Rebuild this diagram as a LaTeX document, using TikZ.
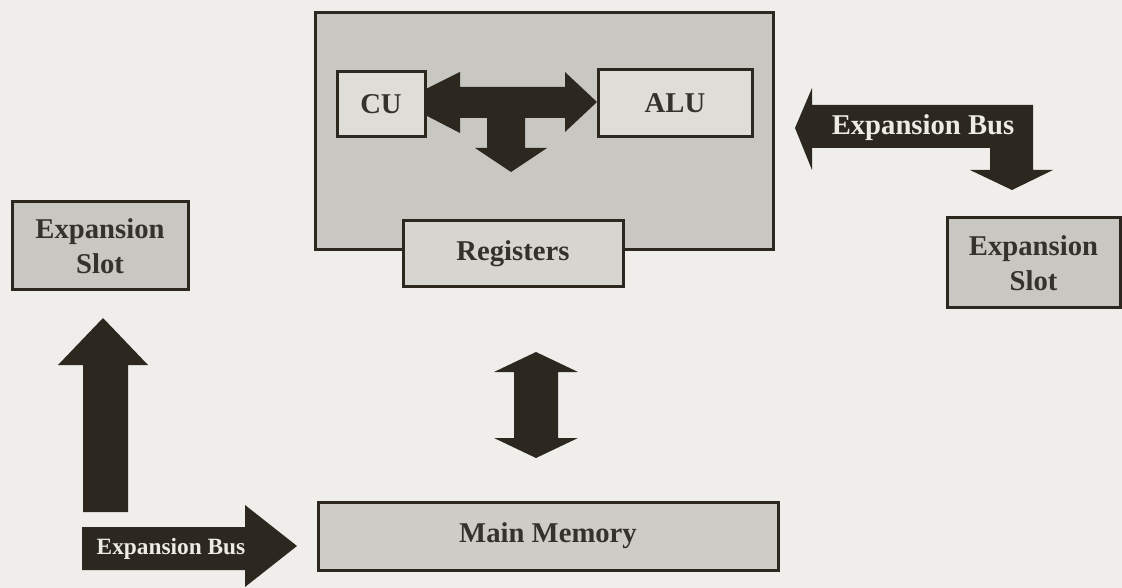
\documentclass[tikz,border=0pt]{standalone}
\usepackage{fontspec}
\setmainfont{Liberation Serif}
\newdimen\pxu \pxu=0.75pt
\definecolor{bgc}{RGB}{239,238,234}
\definecolor{outerc}{RGB}{200,199,194}
\definecolor{lightc}{RGB}{222,221,216}
\definecolor{regc}{RGB}{214,213,208}
\definecolor{slotc}{RGB}{200,199,194}
\definecolor{memc}{RGB}{205,204,199}
\definecolor{darkc}{RGB}{44,40,32}
\definecolor{txtc}{RGB}{52,50,46}
\definecolor{wtxt}{RGB}{236,235,230}
\begin{document}
\begin{tikzpicture}[x=0.75pt,y=-0.75pt,
  box/.style={draw=darkc,line width=3\pxu,inner sep=0pt,text=txtc,
    font=\fontsize{21.5}{24}\selectfont\bfseries,align=center},
  blockarrow/.style={fill=darkc,draw=none},
  buslabel/.style={text=wtxt,font=\fontsize{21.5}{24}\selectfont\bfseries,inner sep=0pt}]
\useasboundingbox (0,0) rectangle (1122,588);
\fill[bgc] (0,0) rectangle (1122,588);

% CPU outer box
\node[box,fill=outerc,minimum width=458\pxu,minimum height=237\pxu] (cpu) at (544,131.5) {};

% CU <-> ALU arrow with branch down
\fill[blockarrow] (400,102) -- (460,72) -- (460,87) -- (565,87) -- (565,72) -- (597,102)
  -- (565,132) -- (565,118) -- (460,118) -- (460,133) -- cycle;
\fill[blockarrow] (487,116) -- (487,148) -- (475,148) -- (511,172) -- (547,148)
  -- (525,148) -- (525,116) -- cycle;

\node[box,fill=lightc,minimum width=88\pxu,minimum height=65\pxu] (cu) at (381,104.5) {CU};
\node[box,fill=lightc,minimum width=154\pxu,minimum height=67\pxu] (alu) at (675,103.5) {ALU};
\node[box,fill=regc,minimum width=220\pxu,minimum height=66\pxu] (reg) at (513,254) {Registers};

% right expansion bus
\fill[blockarrow] (795,128) -- (812,88) -- (812,105) -- (1033,105) -- (1033,170) -- (1053,170)
  -- (1012,190) -- (970,170) -- (990,170) -- (990,148) -- (812,148) -- (812,170) -- cycle;
\node[buslabel] (busr) at (923,128) {Expansion Bus};

\node[box,fill=slotc,minimum width=173\pxu,minimum height=90\pxu] (slotr) at (1033.5,263)
  {Expansion\\[2pt]Slot};
\node[box,fill=slotc,minimum width=176\pxu,minimum height=88\pxu] (slotl) at (100,246)
  {Expansion\\[2pt]Slot};

% up arrow to left slot
\fill[blockarrow] (103,318) -- (148,365) -- (128,365) -- (128,512) -- (83,512) -- (83,365)
  -- (58,365) -- cycle;

% bottom expansion bus
\fill[blockarrow] (82,527) -- (245,527) -- (245,505) -- (297,546) -- (245,587) -- (245,570)
  -- (82,570) -- cycle;
\node[buslabel,font=\fontsize{17.5}{20}\selectfont\bfseries] (busb) at (171,549) {Expansion Bus};

% registers <-> main memory
\fill[blockarrow] (536,352) -- (578,372) -- (558,372) -- (558,438) -- (578,438) -- (536,458)
  -- (494,438) -- (514,438) -- (514,372) -- (494,372) -- cycle;

\node[box,fill=memc,minimum width=460\pxu,minimum height=68\pxu] (mem) at (548,536)
  {\raisebox{-3\pxu}{Main Memory}};
\end{tikzpicture}
\end{document}
